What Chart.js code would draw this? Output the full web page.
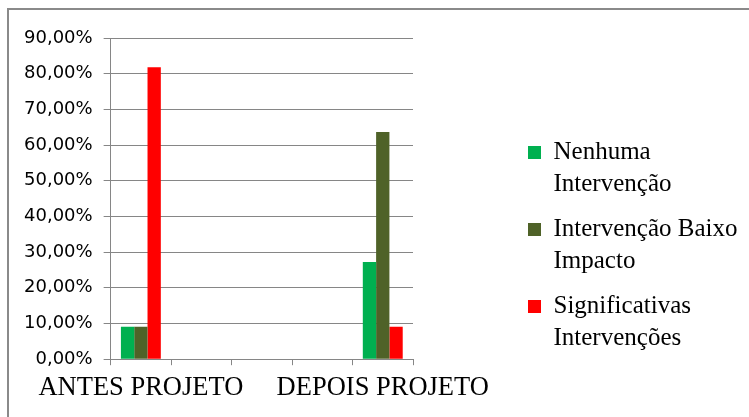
<!DOCTYPE html>
<html>
<head>
<meta charset="utf-8">
<script src="https://cdn.jsdelivr.net/npm/chart.js@4/dist/chart.umd.min.js"></script>
<style>
  html, body { margin: 0; padding: 0; background: #fff; overflow: hidden; }
  #wrap { position: relative; width: 749px; height: 417px; }
  #frame {
    position: absolute; left: 7px; top: 8px; width: 800px; height: 500px;
    border-left: 2px solid #8a8a8a; border-top: 2px solid #8a8a8a;
  }
  #chart { position: absolute; left: 0; top: 0; }
</style>
</head>
<body>
<div id="wrap">
  <div id="frame"></div>
  <canvas id="chart" width="749" height="417"></canvas>
</div>
<script>
// Categorias (só a primeira e a última têm rótulo)
const categorias = ["ANTES PROJETO", "", "", "", "DEPOIS PROJETO"];

// Séries em percentagem
const nenhumaIntervencao = [9.09, null, null, null, 27.27];
const baixoImpacto = [9.09, null, null, null, 63.64];
const significativas = [81.82, null, null, null, 9.09];

// Nomes das séries (em duas linhas na legenda)
const nomesSeries = [
    ["Nenhuma", "Intervenção"],
    ["Intervenção Baixo", "Impacto"],
    ["Significativas", "Intervenções"]
];

const corGrade = "#868686";

const ctx = document.getElementById("chart").getContext("2d");

new Chart(ctx, {
    type: "bar",
    data: {
        labels: categorias,
        datasets: [
            { label: nomesSeries[0], data: nenhumaIntervencao, backgroundColor: "#00B050" },
            { label: nomesSeries[1], data: baixoImpacto, backgroundColor: "#4F6228" },
            { label: nomesSeries[2], data: significativas, backgroundColor: "#FF0000" }
        ]
    },
    options: {
        responsive: false,
        animation: false,
        devicePixelRatio: 1,
        layout: { padding: { left: 13, top: 38, bottom: 6, right: 0 } },
        datasets: {
            bar: { categoryPercentage: 0.66, barPercentage: 1 }
        },
        scales: {
            x: {
                grid: { drawOnChartArea: false, drawTicks: true, tickLength: 6, color: corGrade, offset: true },
                border: { display: true, color: corGrade, width: 1 },
                ticks: {
                    autoSkip: false, maxRotation: 0, minRotation: 0, padding: 7,
                    color: "#000",
                    font: { family: "'Liberation Serif'", size: 26.5, lineHeight: 1.2 }
                }
            },
            y: {
                min: 0, max: 90,
                grid: { color: corGrade, tickLength: 7 },
                border: { display: true, color: corGrade, width: 1 },
                ticks: {
                    stepSize: 10, padding: 11, color: "#000",
                    font: { family: "'DejaVu Sans'", size: 18 },
                    callback: v => v.toFixed(2).replace(".", ",") + "%"
                }
            },
            // eixo vazio só para afastar a legenda do gráfico
            espaco: {
                type: "linear", position: "right", display: true,
                grid: { display: false }, border: { display: false },
                ticks: { display: false },
                afterFit: s => { s.width = 102; }
            }
        },
        plugins: {
            tooltip: { enabled: false },
            legend: {
                position: "right",
                align: "start",
                fullSize: false,
                maxWidth: 234,
                title: { display: true, text: " ", font: { size: 10, lineHeight: 1 }, padding: { top: 0, bottom: 79 } },
                labels: {
                    boxWidth: 13, boxHeight: 13, padding: 13, color: "#000",
                    font: { family: "'Liberation Serif'", size: 25, lineHeight: 1.28 }
                }
            }
        }
    }
});
</script>
</body>
</html>
